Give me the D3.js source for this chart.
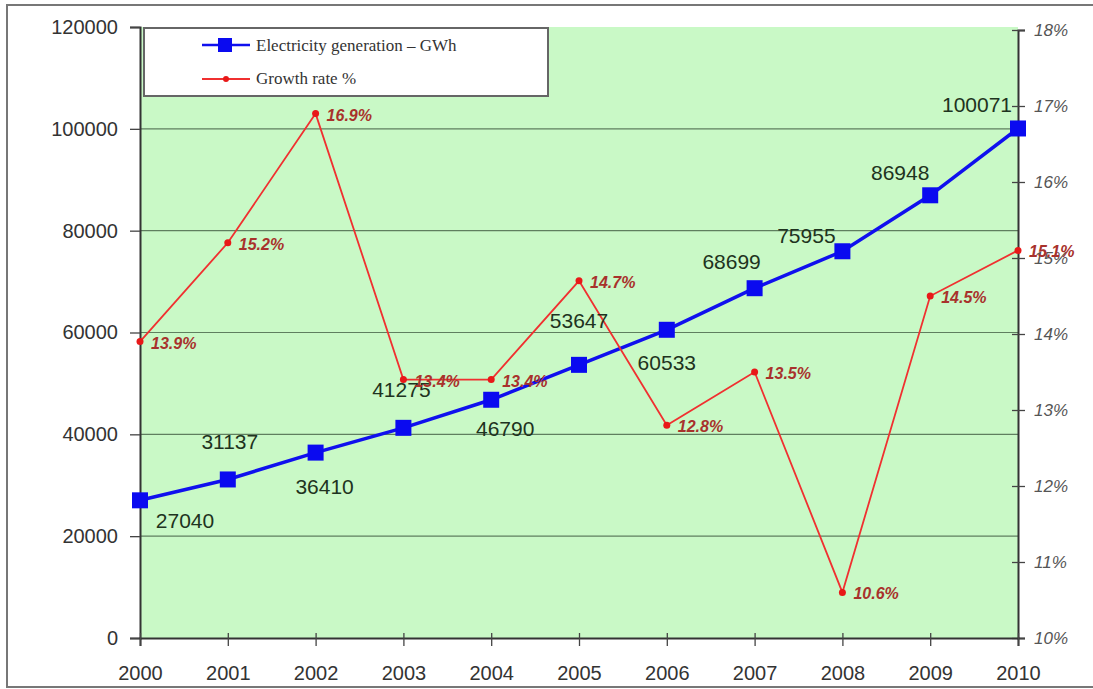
<!DOCTYPE html>
<html>
<head>
<meta charset="utf-8">
<script src="https://cdn.jsdelivr.net/npm/d3@7"></script>
<style>
  html, body { margin: 0; padding: 0; background: #fff; }
  svg { display: block; }
</style>
</head>
<body>
<svg id="chart" width="1093" height="689"></svg>
<script>
// Annual electricity generation (GWh) and its year-on-year growth rate (%)
const years = [2000, 2001, 2002, 2003, 2004, 2005, 2006, 2007, 2008, 2009, 2010];
const generation = [27040, 31137, 36410, 41275, 46790, 53647, 60533, 68699, 75955, 86948, 100071];
const growth = [13.9, 15.2, 16.9, 13.4, 13.4, 14.7, 12.8, 13.5, 10.6, 14.5, 15.1];
const leftTicks = [0, 20000, 40000, 60000, 80000, 100000, 120000];
const rightTicks = [10, 11, 12, 13, 14, 15, 16, 17, 18];
const seriesNames = ["Electricity generation \u2013 GWh", "Growth rate %"];

// Placement of the generation value labels relative to each point (dx, dy of baseline centre)
const genLabelOffset = [
  [45, 28], [2, -30], [9, 41], [-2, -31], [14, 36], [0, -37],
  [0, 40], [-23, -19], [-36, -8], [-30, -15], [-41, -16]
];

const svg = d3.select("#chart");
const plotLeft = 140, plotRight = 1018, plotTop = 27, plotBottom = 638;

const x = d3.scalePoint().domain(years).range([plotLeft, plotRight]);
const yL = d3.scaleLinear().domain([0, 120000]).range([plotBottom, plotTop]);
const yR = d3.scaleLinear().domain([10, 18]).range([plotBottom, plotTop + 3]);

// outer frame
svg.append("rect")
  .attr("x", 7).attr("y", 5).attr("width", 1095).attr("height", 682)
  .attr("fill", "none").attr("stroke", "#777").attr("stroke-width", 2);

// plot background
svg.append("rect")
  .attr("x", plotLeft).attr("y", plotTop).attr("width", plotRight - plotLeft).attr("height", plotBottom - plotTop)
  .attr("fill", "#c9f9c6");

// horizontal gridlines
svg.append("g").selectAll("line")
  .data(leftTicks.filter(d => d > 0 && d < 120000))
  .join("line")
  .attr("x1", plotLeft).attr("x2", plotRight)
  .attr("y1", d => yL(d)).attr("y2", d => yL(d))
  .attr("stroke", "#5f7f5f").attr("stroke-width", 1.2);

// left axis
const axL = svg.append("g").attr("transform", `translate(${plotLeft},0)`)
  .call(d3.axisLeft(yL).tickValues(leftTicks).tickFormat(d3.format("d")).tickSize(10).tickPadding(12));
axL.select(".domain").attr("stroke", "#333").attr("stroke-width", 2);
axL.selectAll(".tick line").attr("stroke", "#444").attr("stroke-width", 1.3);
axL.selectAll(".tick text")
  .attr("font-family", "Liberation Sans, Arial, sans-serif")
  .attr("font-size", 20).attr("fill", "#333");

// right axis
const axR = svg.append("g").attr("transform", `translate(${plotRight},0)`)
  .call(d3.axisRight(yR).tickValues(rightTicks).tickFormat(d => d + "%").tickSize(7).tickPadding(9));
axR.select(".domain").attr("stroke", "#333").attr("stroke-width", 2);
axR.selectAll(".tick line").attr("stroke", "#444").attr("stroke-width", 1.3).attr("x1", -6);
axR.selectAll(".tick text")
  .attr("font-family", "Liberation Sans, Arial, sans-serif")
  .attr("font-style", "italic")
  .attr("font-size", 17).attr("fill", "#555");

// bottom axis
const axB = svg.append("g").attr("transform", `translate(0,${plotBottom})`)
  .call(d3.axisBottom(x).tickSize(8).tickPadding(20));
axB.select(".domain").attr("stroke", "#333").attr("stroke-width", 2);
axB.selectAll(".tick line").attr("stroke", "#444").attr("stroke-width", 1.3).attr("y1", -5);
axB.selectAll(".tick text")
  .attr("font-family", "Liberation Sans, Arial, sans-serif")
  .attr("font-size", 20).attr("fill", "#333");

// generation series
svg.append("path")
  .datum(generation)
  .attr("fill", "none").attr("stroke", "#1010ee").attr("stroke-width", 3.5)
  .attr("d", d3.line().x((d, i) => x(years[i])).y(d => yL(d)));
svg.append("g").selectAll("rect")
  .data(generation)
  .join("rect")
  .attr("x", (d, i) => x(years[i]) - 8).attr("y", d => yL(d) - 8)
  .attr("width", 16).attr("height", 16)
  .attr("fill", "#0a0af0");

// growth series
svg.append("path")
  .datum(growth)
  .attr("fill", "none").attr("stroke", "#f03030").attr("stroke-width", 1.8)
  .attr("d", d3.line().x((d, i) => x(years[i])).y(d => yR(d)));
svg.append("g").selectAll("circle")
  .data(growth)
  .join("circle")
  .attr("cx", (d, i) => x(years[i])).attr("cy", d => yR(d))
  .attr("r", 3.5).attr("fill", "#e81818");

// generation value labels
svg.append("g").selectAll("text")
  .data(generation)
  .join("text")
  .attr("x", (d, i) => x(years[i]) + genLabelOffset[i][0])
  .attr("y", (d, i) => yL(d) + genLabelOffset[i][1])
  .attr("text-anchor", "middle")
  .attr("font-family", "Liberation Sans, Arial, sans-serif")
  .attr("font-size", 21).attr("fill", "#1e3320")
  .text(d => d);

// growth value labels
svg.append("g").selectAll("text")
  .data(growth)
  .join("text")
  .attr("x", (d, i) => x(years[i]) + 11)
  .attr("y", d => yR(d) + 7)
  .attr("font-family", "Liberation Sans, Arial, sans-serif")
  .attr("font-size", 16).attr("font-weight", "bold").attr("font-style", "italic")
  .attr("fill", "#a8322c")
  .text(d => d.toFixed(1) + "%");

// legend
const lg = svg.append("g");
lg.append("rect")
  .attr("x", 144).attr("y", 28).attr("width", 404).attr("height", 68)
  .attr("fill", "#fff").attr("stroke", "#666").attr("stroke-width", 2);
lg.append("line").attr("x1", 202).attr("x2", 250).attr("y1", 45).attr("y2", 45)
  .attr("stroke", "#1010ee").attr("stroke-width", 2.5);
lg.append("rect").attr("x", 218).attr("y", 38).attr("width", 14).attr("height", 14).attr("fill", "#0a0af0");
lg.append("line").attr("x1", 202).attr("x2", 250).attr("y1", 79).attr("y2", 79)
  .attr("stroke", "#f03030").attr("stroke-width", 1.8);
lg.append("circle").attr("cx", 226).attr("cy", 79).attr("r", 3).attr("fill", "#e81818");
lg.selectAll("text.lab")
  .data(seriesNames)
  .join("text")
  .attr("class", "lab")
  .attr("x", 256).attr("y", (d, i) => 51 + i * 33)
  .attr("font-family", "Liberation Serif, Times New Roman, serif")
  .attr("font-size", 17).attr("fill", "#333")
  .text(d => d);
</script>
</body>
</html>
